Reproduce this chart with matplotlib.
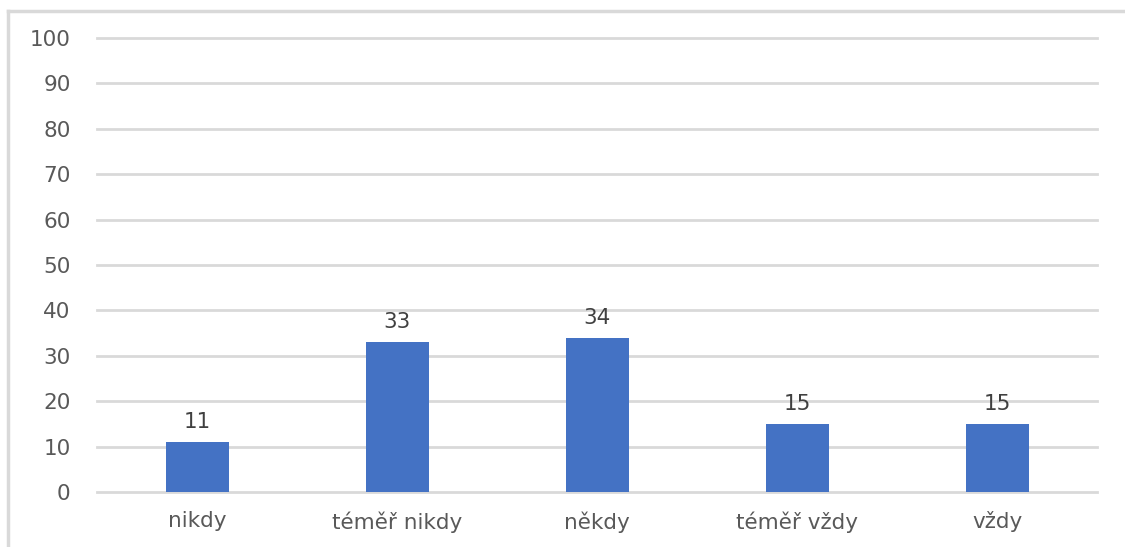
import matplotlib.pyplot as plt
from matplotlib.lines import Line2D

categories = ['nikdy', 'téměř nikdy', 'někdy', 'téměř vždy', 'vždy']
values = [11, 33, 34, 15, 15]
yticks = [0, 10, 20, 30, 40, 50, 60, 70, 80, 90, 100]

W, H = 1125, 547
fig = plt.figure(figsize=(W / 100, H / 100), dpi=100)
ax = fig.add_axes([97 / W, 1 - 492 / H, 1000 / W, 454 / H])

text_col = '#595959'
grid_col = '#d9d9d9'

x = range(len(categories))
bars = ax.bar(x, values, width=0.315, color='#4472c4', zorder=3)
for b, v in zip(bars, values):
    ax.annotate(str(v), (b.get_x() + b.get_width() / 2, v), xytext=(0, 7),
                textcoords='offset points', ha='center', va='bottom',
                fontsize=15.5, color='#404040')

ax.set_xlim(-0.5, 4.5)
ax.set_ylim(0, 100)
ax.set_yticks(yticks)
ax.set_xticks(list(x))
ax.set_xticklabels(categories)
ax.yaxis.grid(True, color=grid_col, linewidth=2)
for gl in ax.get_ygridlines():
    gl.set_clip_on(False)
ax.set_axisbelow(True)
for s in ax.spines.values():
    s.set_visible(False)
ax.tick_params(axis='both', length=0, labelsize=15.5, colors=text_col)
ax.tick_params(axis='y', pad=19)
ax.tick_params(axis='x', pad=14)

# outer chart border (partly cut off in the source)
fig.add_artist(Line2D([8 / W, 8 / W], [0, 1 - 11 / H], color=grid_col, linewidth=2.5))
fig.add_artist(Line2D([8 / W, 1], [1 - 11 / H, 1 - 11 / H], color=grid_col, linewidth=2.5))

fig.savefig('out.png', dpi=100)
